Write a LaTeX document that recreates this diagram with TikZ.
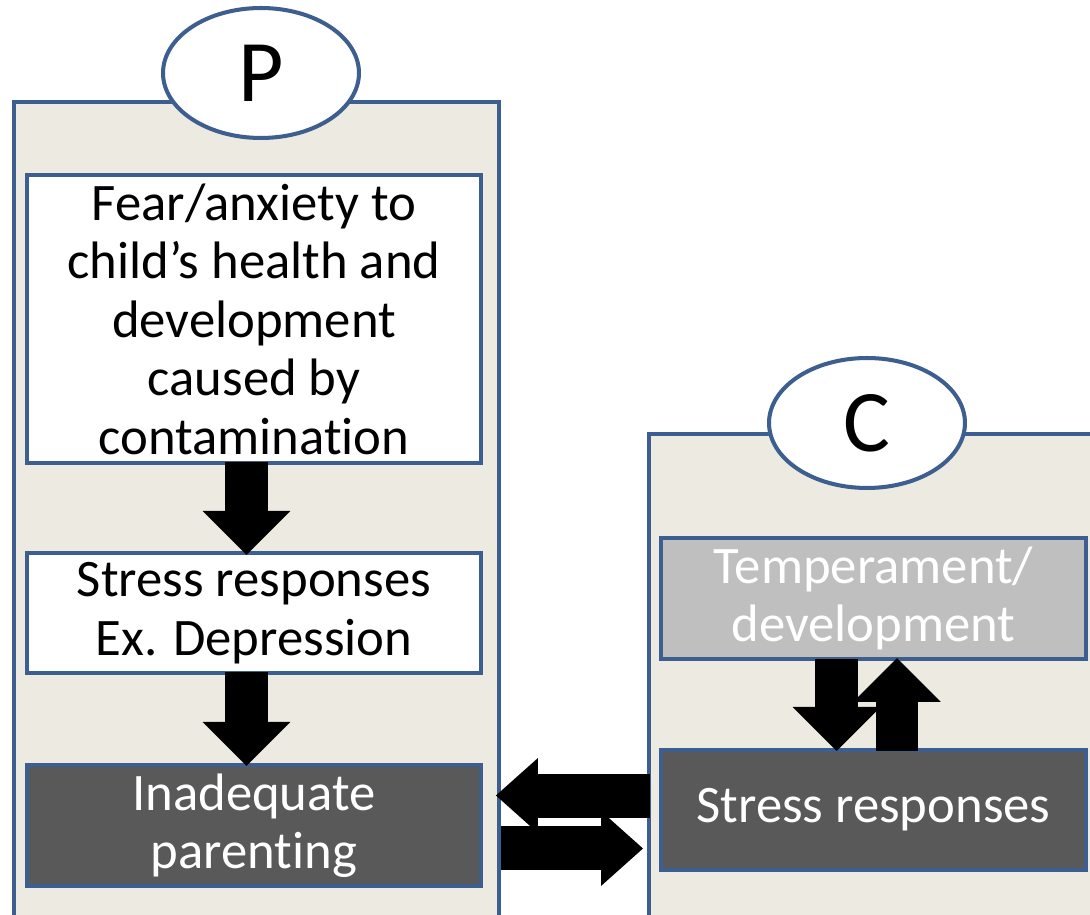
\documentclass[tikz,border=0pt]{standalone}
\usepackage{fontspec}
\setmainfont{Carlito}[Ligatures=NoCommon]
\usetikzlibrary{shapes.geometric,arrows.meta}
\definecolor{frameblue}{HTML}{3C5F8F}
\definecolor{panelbg}{HTML}{EDEBE1}
\definecolor{darkbox}{HTML}{595959}
\definecolor{lightbox}{HTML}{BFBFBF}
\tikzset{
  panel/.style={draw=frameblue, line width=2.3pt, fill=panelbg, anchor=north west, inner sep=0pt},
  oval/.style={ellipse, draw=frameblue, line width=2.3pt, fill=white, minimum width=3.92cm, minimum height=2.6cm, font=\fontsize{50}{54}\selectfont},
  box/.style={draw=frameblue, line width=2.3pt, inner sep=0pt, align=center, font=\fontsize{30}{33.3}\selectfont},
  bigarrow/.style={line width=0.86cm, -{Triangle[length=0.88cm, width=1.76cm, line width=0pt]}},
  sidearrow/.style={line width=0.88cm, -{Triangle[length=0.84cm, width=1.5cm, line width=0pt]}}
}
\begin{document}
\begin{tikzpicture}[x=0.02cm, y=-0.02cm]
\useasboundingbox (0,0) rectangle (1090,915);
\clip (0,0) rectangle (1090,915);
\fill[white] (0,0) rectangle (1090,915);

\node[panel, minimum width=9.7cm, minimum height=17cm] (ppanel) at (12,100) {};
\node[panel, minimum width=9.4cm, minimum height=10cm] (cpanel) at (647,432) {};
\node[oval] (p) at (261,73) {P};
\node[oval] (c) at (867,423) {C};

\node[box, fill=white, minimum width=9.08cm, minimum height=5.76cm] (fear) at (254,319)
  {Fear/anxiety to\\child’s health and\\development\\caused by\\contamination};
\node[box, fill=white, minimum width=9.08cm, minimum height=2.4cm] (stressp) at (254,613)
  {Stress responses\\Ex. Depression};
\node[box, fill=darkbox, text=white, minimum width=9.08cm, minimum height=2.42cm] (parenting) at (254,825.5)
  {Inadequate\\parenting};
\node[box, fill=lightbox, text=white, minimum width=8.5cm, minimum height=2.42cm] (temper) at (873.5,598.5)
  {Temperament/\\development};
\node[box, fill=darkbox, text=white, minimum width=8.5cm, minimum height=2.4cm] (stressc) at (873.5,810)
  {Stress responses};

\draw[bigarrow] ([xshift=-0.15cm, yshift=0.06cm]fear.south) -- ([xshift=-0.15cm, yshift=-0.08cm]stressp.north);
\draw[bigarrow] ([xshift=-0.15cm, yshift=0.06cm]stressp.south) -- ([xshift=-0.15cm, yshift=-0.06cm]parenting.north);
\draw[bigarrow] ([xshift=-0.74cm, yshift=0.04cm]temper.south) -- ([xshift=-0.74cm, yshift=-0.06cm]stressc.north);
\draw[bigarrow] ([xshift=0.47cm, yshift=-0.06cm]stressc.north) -- ([xshift=0.47cm, yshift=0.06cm]temper.south);
\draw[sidearrow] ([xshift=0.06cm, yshift=0.6cm]cpanel.west |- parenting.east) -- ([xshift=-0.1cm, yshift=0.6cm]ppanel.east |- parenting.east);
\draw[sidearrow] ([yshift=-0.46cm]ppanel.east |- parenting.east) -- ([xshift=-0.08cm, yshift=-0.46cm]cpanel.west |- parenting.east);
\end{tikzpicture}
\end{document}
